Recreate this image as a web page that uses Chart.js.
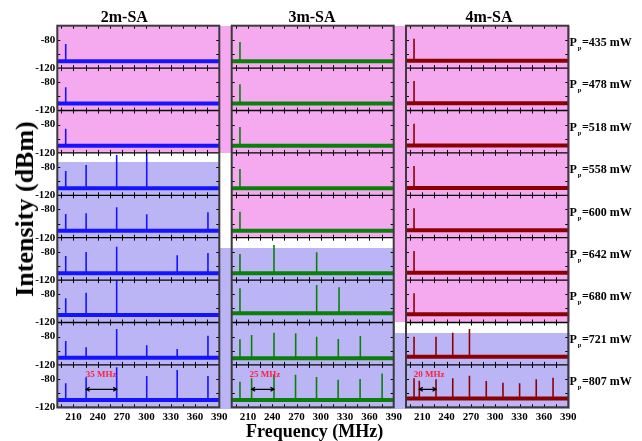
<!DOCTYPE html>
<html>
<head>
<meta charset="utf-8">
<script src="https://cdn.jsdelivr.net/npm/chart.js@4.4.0/dist/chart.umd.min.js"></script>
<style>
  html, body { margin: 0; padding: 0; background: #fff; }
  #wrap { position: relative; width: 642px; height: 441px; overflow: hidden;
          font-family: "Liberation Serif", "Times New Roman", serif; font-weight: bold; color: #000; }
  #wrap canvas { position: absolute; left: 0; top: 0; }
  .shade { position: absolute; }
  .txt { position: absolute; white-space: nowrap; transform: translate(-50%, -50%); line-height: 1; }
  .pp { position: absolute; white-space: nowrap; font-size: 12px; line-height: 1; transform: translateY(-50%); }
  .pp sub { font-size: 6.5px; vertical-align: -4px; margin: 0 0.5px 0 1px; }
</style>
</head>
<body>
<div id="wrap"></div>
<script>
// Axis ranges and tick labels
const freqMin = 190, freqMax = 390;
const dbMin = -120, dbMax = -60;
const freqTicks = [210, 240, 270, 300, 330, 360, 390];
const dbTicks = [-120, -80];

// Column titles and pump powers (one row each)
const columnTitles = ['2m-SA', '3m-SA', '4m-SA'];
const pumpPowers = [435, 478, 518, 558, 600, 642, 680, 721, 807];

// Peaks per row: [frequency MHz, intensity dBm]
const peaks2m = [
    [[200.4, -86]],
    [[200.4, -87]],
    [[200.4, -86]],
    [[200.4, -85.6], [225.6, -77], [263.3, -63], [300.4, -60.5]],
    [[200.4, -86.5], [225.6, -85.5], [263.3, -77], [300.4, -86.9], [376, -84]],
    [[200.4, -85.9], [225.6, -80.2], [263.3, -72.7], [338, -84.9], [376, -81.7]],
    [[200.4, -85.8], [225.6, -77.8], [263.3, -60]],
    [[200.4, -86.2], [225.6, -95.1], [263.3, -69.2], [300.4, -92.3], [338, -97.5], [376, -78.7]],
    [[200.4, -86], [225.6, -77.5], [263.3, -63.4], [300.4, -75.7], [338, -67.2], [376, -75.7]]
];
const peaks3m = [
    [[200.2, -83]],
    [[200.2, -83]],
    [[200.2, -83.3]],
    [[200.2, -82.8]],
    [[200.2, -83.2]],
    [[200.2, -83], [242.2, -70.3], [294.9, -80.7]],
    [[200.2, -71.6], [294.9, -67], [322.5, -70.2]],
    [[200.2, -83.8], [214.6, -77.7], [242.2, -74.4], [269, -75.3], [294.9, -80.1], [321.6, -83.4], [348.8, -79.1]],
    [[200.2, -84], [214.6, -79], [242.2, -74], [268.8, -74], [294.7, -77], [321.4, -81], [348.5, -80], [375.7, -72]]
];
const peaks4m = [
    [[199.9, -78.4]],
    [[199.9, -78.3]],
    [[199.9, -78.7]],
    [[199.9, -78.5]],
    [[199.9, -78.4]],
    [[199.9, -78.8]],
    [[199.9, -78.7]],
    [[199.9, -80.1], [227, -80.1], [247.6, -74.4], [268.2, -69.2]],
    [[199.9, -79], [206.4, -82.4], [227, -80.4], [247.6, -79], [268.2, -75.3], [288.9, -82.8],
     [309.5, -85.2], [330, -86], [350.5, -80.4], [371.2, -78.1]]
];

// Noise floor per row (dBm)
const noise2m = [-110.4, -110, -110, -110, -110, -110.4, -109.4, -109.8, -109.7];
const noise3m = [-110.4, -110, -110, -110, -110, -110.4, -107, -110.7, -109.7];
const noise4m = [-109.7, -109.7, -109.7, -109.5, -109.5, -109.5, -108.5, -108.4, -107.5];

// Mode spacing markers in the bottom row
const spacingLabels = ['35 MHz', '25 MHz', '20 MHz'];
const spacingArrows = [[225.6, 263.3], [214.6, 242.2], [206.4, 227]];
const spacingLabelFreq = [244, 231, 218.4];

const lineColors = ['#1414ff', '#0a800a', '#8b0000'];
const peakSets = [peaks2m, peaks3m, peaks4m];
const noiseSets = [noise2m, noise3m, noise4m];

// Page layout (pixels)
const W = 642, H = 441;
const colLeft = [57.3, 231.7, 406];
const colRight = [219.3, 393.7, 568.3];
const titleX = [124.3, 312, 489];
const plotTop = 25.7, plotBottom = 407.3;
const rowH = (plotBottom - plotTop) / 9;
const xAxisH = 20;
const yAxisW = 40;

const PINK = '#f5aaf0', LAV = '#bbb5f5';
const shading = [
    [57.3, 25.7, 231.7, 152.9, PINK],
    [231.7, 25.7, 406, 237.7, PINK],
    [393.7, 25.7, 570, 322.5, PINK],
    [57.3, 162, 219.3, 248, LAV],
    [57.3, 248, 395, 409, LAV],
    [393.7, 333.3, 570, 409, LAV]
];

const wrap = document.getElementById('wrap');

shading.forEach(([x0, y0, x1, y1, c]) => {
    const d = document.createElement('div');
    d.className = 'shade';
    d.style.cssText = `left:${x0}px;top:${y0}px;width:${x1 - x0}px;height:${y1 - y0}px;background:${c}`;
    wrap.appendChild(d);
});

function addText(cls, html, x, y, css) {
    const d = document.createElement('div');
    d.className = cls;
    d.innerHTML = html;
    d.style.cssText = `left:${x}px;top:${y}px;${css || ''}`;
    wrap.appendChild(d);
    return d;
}

// Frames and inward tick marks
const framePlugin = {
    id: 'frames',
    afterDatasetsDraw(chart) {
        const { ctx, chartArea: a, scales } = chart;
        ctx.save();
        ctx.strokeStyle = '#000';
        for (let r = 0; r < 9; r++) {
            const ys = scales['y' + r];
            ctx.lineWidth = 1;
            ctx.beginPath();
            for (let f = 195; f < freqMax; f += 15) {
                const px = Math.round(scales.x.getPixelForValue(f)) + 0.5;
                ctx.moveTo(px, ys.top); ctx.lineTo(px, ys.top + 3);
                ctx.moveTo(px, ys.bottom); ctx.lineTo(px, ys.bottom - 3);
            }
            [-100, -80].forEach(v => {
                const py = Math.round(ys.getPixelForValue(v)) + 0.5;
                ctx.moveTo(a.left, py); ctx.lineTo(a.left + 3, py);
                ctx.moveTo(a.right, py); ctx.lineTo(a.right - 3, py);
            });
            ctx.stroke();
            if (r < 8) {
                ctx.lineWidth = 1.3;
                ctx.beginPath();
                ctx.moveTo(a.left, ys.bottom); ctx.lineTo(a.right, ys.bottom);
                ctx.stroke();
            }
        }
        ctx.strokeStyle = '#3a3a3a';
        ctx.lineWidth = 2;
        ctx.strokeRect(a.left, a.top, a.right - a.left, a.bottom - a.top);
        ctx.restore();
    }
};

// Spacing arrow + label on the bottom row
const spacingPlugin = {
    id: 'spacing',
    afterDatasetsDraw(chart, args, opts) {
        const { ctx, scales } = chart;
        const ys = scales.y8;
        const [f1, f2] = spacingArrows[opts.col];
        const x1 = scales.x.getPixelForValue(f1), x2 = scales.x.getPixelForValue(f2);
        const y = ys.getPixelForValue(-94.5);
        ctx.save();
        ctx.strokeStyle = '#000';
        ctx.lineWidth = 1.2;
        ctx.beginPath();
        ctx.moveTo(x1, y); ctx.lineTo(x2, y);
        ctx.moveTo(x1 + 3.5, y - 2); ctx.lineTo(x1, y); ctx.lineTo(x1 + 3.5, y + 2);
        ctx.moveTo(x2 - 3.5, y - 2); ctx.lineTo(x2, y); ctx.lineTo(x2 - 3.5, y + 2);
        ctx.stroke();
        ctx.fillStyle = '#ff1f3d';
        ctx.font = 'bold 9px "Liberation Serif"';
        ctx.textAlign = 'center';
        ctx.textBaseline = 'middle';
        ctx.fillText(spacingLabels[opts.col],
            scales.x.getPixelForValue(spacingLabelFreq[opts.col]), ys.getPixelForValue(-74.5));
        ctx.restore();
    }
};

const tickFont = { family: '"Liberation Serif"', size: 11, weight: 'bold' };

function buildColumn(c) {
    const canvas = document.createElement('canvas');
    canvas.width = W; canvas.height = H;
    wrap.appendChild(canvas);

    const datasets = [];
    const scales = {
        x: {
            type: 'linear', position: 'bottom', min: freqMin, max: freqMax,
            afterBuildTicks: s => { s.ticks = freqTicks.map(v => ({ value: v })); },
            afterFit: s => { s.height = xAxisH; },
            grid: { display: false, drawTicks: false }, border: { display: false },
            ticks: { font: tickFont, color: '#000', padding: 3, maxRotation: 0, autoSkip: false }
        }
    };
    for (let r = 0; r < 9; r++) {
        scales['y' + r] = {
            type: 'linear', position: 'left', stack: 'rows', stackWeight: 1, weight: 9 - r,
            min: dbMin, max: dbMax,
            afterBuildTicks: s => { s.ticks = dbTicks.map(v => ({ value: v })); },
            afterFit: s => { s.width = c === 0 ? yAxisW : 0; },
            grid: { display: false, drawTicks: false }, border: { display: false },
            ticks: { display: c === 0, font: tickFont, color: '#000', padding: 2, autoSkip: false }
        };
        const n = noiseSets[c][r];
        datasets.push({
            data: [{ x: freqMin, y: n }, { x: freqMax, y: n }],
            yAxisID: 'y' + r, borderColor: lineColors[c], borderWidth: 4, pointRadius: 0
        });
        const pts = [];
        peakSets[c][r].forEach(([f, db]) => {
            pts.push({ x: f, y: n }, { x: f, y: db }, { x: f, y: null });
        });
        datasets.push({
            data: pts, yAxisID: 'y' + r, borderColor: lineColors[c], borderWidth: 1.6,
            pointRadius: 0, spanGaps: false
        });
    }

    new Chart(canvas.getContext('2d'), {
        type: 'line',
        data: { datasets },
        options: {
            responsive: false, animation: false, devicePixelRatio: 1,
            layout: { padding: {
                left: colLeft[c] - (c === 0 ? yAxisW : 0),
                right: W - colRight[c],
                top: plotTop,
                bottom: H - plotBottom - xAxisH
            } },
            scales,
            plugins: { legend: { display: false }, tooltip: { enabled: false }, spacing: { col: c } },
            events: []
        },
        plugins: [framePlugin, spacingPlugin]
    });

    addText('txt', columnTitles[c], titleX[c], 17.3, 'font-size:16px');
}

for (let c = 0; c < 3; c++) buildColumn(c);

pumpPowers.forEach((p, r) => {
    addText('pp', `P<sub>p</sub>=${p} mW`, 569.5, plotTop + rowH * (r + 0.5) - 3);
});

addText('txt', 'Intensity (dBm)', 25, 209, 'font-size:26px;transform:translate(-50%,-50%) rotate(-90deg)');
addText('txt', 'Frequency (MHz)', 314.7, 431, 'font-size:18px');
</script>
</body>
</html>
